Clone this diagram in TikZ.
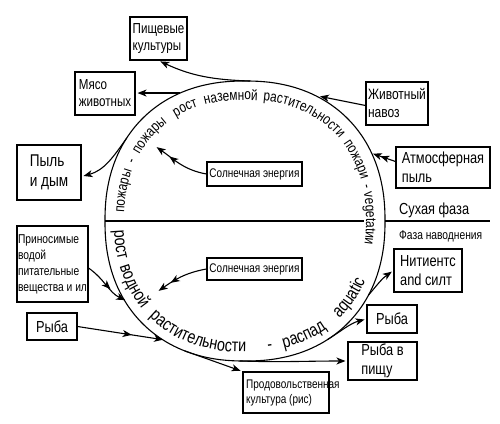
\documentclass[tikz,border=0pt]{standalone}
\usepackage{fontspec}
\setmainfont[FakeStretch=0.8]{Liberation Sans}
\usetikzlibrary{arrows.meta,decorations.text,decorations.markings,calc}
\newcommand\UpArcFont{\fontsize{14.8}{14.8}\selectfont}
\newcommand\LowArcFont{\fontsize{18}{18}\selectfont}
% text along a part of the rounded ring (scale #1 of the ring, parameter #2 to #3)
\newcommand\ArcWord[5]{%
  \path[decorate, decoration={text along path, text align=left, text={|#4|#5}}]
    plot[domain=#2:#3, samples=50] ({245+#1*sx(\x)},{-221+#1*sy(\x)});}
\newcommand\RingPt[2]{\coordinate (#1) at ({245+140*sx(#2)},{-221+140*sy(#2)});}
\tikzset{
  declare function={sx(\t)=sign(cos(\t))*pow(abs(cos(\t))+0.000001,0.9);
                    sy(\t)=sign(sin(\t))*pow(abs(sin(\t))+0.000001,0.9);},
  box/.style={draw, line width=1.1pt, inner sep=0pt, align=left},
  tA/.style={font=\fontsize{12.5}{15}\selectfont},
  tB/.style={font=\fontsize{12.8}{16}\selectfont},
  tC/.style={font=\fontsize{14.5}{17}\selectfont},
  tD/.style={font=\fontsize{15}{18}\selectfont},
  tE/.style={font=\fontsize{16}{19}\selectfont},
  tF/.style={font=\fontsize{17}{20}\selectfont},
  arr/.style={line width=1.1pt, -{Stealth[length=9pt,width=7pt,inset=2.5pt]}, shorten >=2pt},
  midtip/.style={postaction={decorate}, decoration={markings,
      mark=at position #1 with {\arrow{Stealth[length=9pt,width=7pt,inset=2.5pt]}}}},
  ln/.style={line width=1.1pt}
}
\begin{document}
\begin{tikzpicture}[x=1pt,y=1pt]
\useasboundingbox (0,0) rectangle (500,-423);
\coordinate (C) at (245,-221);
% rounded ring
\draw[ln] plot[domain=0:360, samples=361] ({245+140*sx(\x)},{-221+140*sy(\x)}) -- cycle;
% points on the ring
\RingPt{rE}{0}
\RingPt{rW}{180}
\RingPt{rTop}{88.6}
\RingPt{rMeat}{115.2}
\RingPt{rDust}{146}
\RingPt{rProd}{246.8}
\RingPt{rBot}{268.5}
\RingPt{rFish}{303.9}
\RingPt{rNut}{330.4}
% phase line
\coordinate (hlin) at (364,-221);
\coordinate (hend) at (490,-221);
\draw[ln] (rW) -- (hlin);
\draw[ln] (rE) -- (hend);
\node[tE, anchor=west, inner sep=0pt] (dry) at (399,-210) {Сухая фаза};
\node[tB, anchor=west, inner sep=0pt] (wet) at (399,-236) {Фаза наводнения};

% upper ring text (clockwise)
\ArcWord{121}{177}{120}{\UpArcFont}{пожары}
\ArcWord{121}{154.7}{120}{\UpArcFont}{-}
\ArcWord{121}{149.3}{100}{\UpArcFont}{пожары}
\ArcWord{121}{122.5}{80}{\UpArcFont}{рост}
\ArcWord{121}{107}{50}{\UpArcFont}{наземной}
\ArcWord{121}{83}{10}{\UpArcFont}{растительности}
\ArcWord{121}{37.5}{0}{\UpArcFont}{пожари}
\ArcWord{121}{15}{-10}{\UpArcFont}{-}
\ArcWord{121}{11.5}{-40}{\UpArcFont}{vegetatии}
% lower ring text (counterclockwise)
\ArcWord{131}{183}{240}{\LowArcFont}{рост}
\ArcWord{131}{198}{260}{\LowArcFont}{водной}
\ArcWord{131}{225}{300}{\LowArcFont}{растительности}
\ArcWord{131}{278.3}{300}{\LowArcFont}{-}
\ArcWord{131}{285}{340}{\LowArcFont}{распад}
\ArcWord{131}{313.9}{370}{\LowArcFont}{aquatic}

% boxes
\node[box, tC, minimum width=57pt, minimum height=43pt] (pish) at (158.5,-38.5) {Пищевые\\культуры};
\node[box, tC, minimum width=60pt, minimum height=43pt] (myaso) at (105,-93.5) {Мясо\\животных};
\node[box, tF, minimum width=64pt, minimum height=55pt] (pyl) at (49,-172.5) {Пыль\\и дым};
\node[box, tA, minimum width=95pt, minimum height=24pt] (sol1) at (254.5,-174) {Солнечная энергия};
\node[box, tD, minimum width=62pt, minimum height=43pt] (navoz) at (397,-103.5) {Животный\\навоз};
\node[box, tE, minimum width=94pt, minimum height=41pt] (atm) at (443,-167.5) {Атмосферная\\пыль};
\node[box, tB, minimum width=71pt, minimum height=76pt] (prin) at (52.5,-264) {Приносимые\\водой\\питательные\\вещества и ил};
\node[box, tE, minimum width=50pt, minimum height=27pt] (ryba1) at (52,-326.5) {Рыба};
\node[box, tA, minimum width=95pt, minimum height=22pt] (sol2) at (254.5,-269) {Солнечная энергия};
\node[box, tE, minimum width=68pt, minimum height=43pt] (nit) at (428,-270.5) {Нитиентс\\and силт};
\node[box, tE, minimum width=50pt, minimum height=28pt] (ryba2) at (392,-319) {Рыба};
\node[box, tE, minimum width=69pt, minimum height=38pt] (rybap) at (382.5,-361) {Рыба в\\пищу};
\node[box, minimum width=86pt, minimum height=41pt] (prod) at (286,-392.5) {};
\node[tA, anchor=west, align=left, inner sep=0pt] (prodtxt) at (246,-392.5) {Продовольственная\\культура (рис)};

% free arrow ends
\coordinate (ts1) at (155,-146);
\coordinate (tnav) at (318,-96);
\coordinate (tatm) at (371,-153);
\coordinate (tprin) at (127,-301);
\coordinate (tryb) at (165,-340);
\coordinate (ts2) at (157,-292);

% connectors
\draw[arr] (rTop) to[out=178,in=-25] (pish.south);
\draw[arr] (rMeat) -- (rMeat -| myaso.east);
\draw[arr] (rDust) to[out=235,in=15] ([yshift=-4pt]pyl.east);
\draw[arr, midtip=0.7] (sol1.west) to[out=170,in=-35] (ts1);
\draw[arr] ([yshift=-2pt]navoz.west) -- (tnav);
\draw[arr, midtip=0.62] ([yshift=6pt]atm.west) -- (tatm);
\draw[arr, midtip=0.6] ([yshift=-4pt]prin.east) to[out=-35,in=155] (tprin);
\draw[arr, midtip=0.62] (ryba1.east) -- (tryb);
\draw[arr, midtip=0.7] (sol2.west) to[out=190,in=35] (ts2);
\draw[arr] (rNut) to[out=50,in=215] (nit.west);
\draw[arr] (rFish) to[out=32,in=195] (ryba2.west);
\draw[arr] (rBot) to[out=-2,in=180] (rybap.west);
\draw[arr] (rProd) -- (prod.north west);
\end{tikzpicture}
\end{document}
